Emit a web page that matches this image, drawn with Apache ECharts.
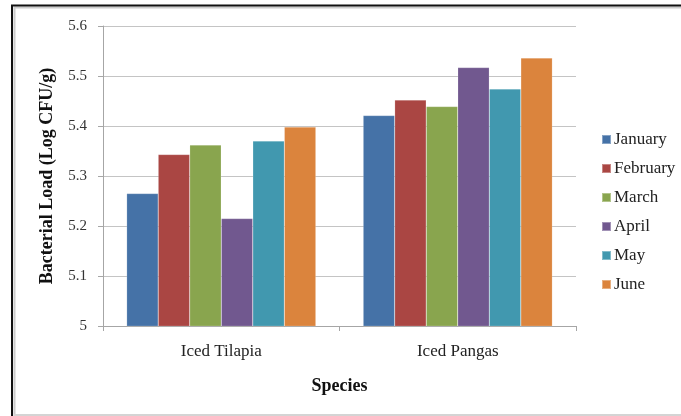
<!DOCTYPE html>
<html>
<head>
<meta charset="utf-8">
<script src="https://cdn.jsdelivr.net/npm/echarts@6/dist/echarts.min.js"></script>
<style>
  html, body { margin: 0; padding: 0; background: #fff; }
  #chart { width: 681px; height: 416px; }
</style>
</head>
<body>
<div id="chart"></div>
<script>
// Bacterial load by species, monthly means (log CFU/g)
const species = ['Iced Tilapia', 'Iced Pangas'];
const months = ['January', 'February', 'March', 'April', 'May', 'June'];
const january  = [5.265, 5.421];
const february = [5.343, 5.452];
const march    = [5.362, 5.439];
const april    = [5.215, 5.517];
const may      = [5.370, 5.474];
const june     = [5.398, 5.536];
const monthColors = ['#4572A7', '#AA4643', '#89A54E', '#71588F', '#4198AF', '#DB843D'];

const monthValues = [january, february, march, april, may, june];
const serif = '"Liberation Serif", "Times New Roman", serif';

const chart = echarts.init(document.getElementById('chart'), null, { renderer: 'canvas' });

chart.setOption({
  animation: false,
  backgroundColor: '#fff',
  textStyle: { fontFamily: serif },
  graphic: [
    // frame: dark line on top and left, soft shadow inside, light line at the bottom
    { type: 'line', shape: { x1: 14, y1: 7.5, x2: 681, y2: 7.5 },
      style: { stroke: '#cccccc', lineWidth: 2 } },
    { type: 'line', shape: { x1: 14.5, y1: 7, x2: 14.5, y2: 416 },
      style: { stroke: '#cccccc', lineWidth: 2 } },
    { type: 'line', shape: { x1: 11, y1: 5.5, x2: 681, y2: 5.5 },
      style: { stroke: '#111', lineWidth: 2 } },
    { type: 'line', shape: { x1: 12, y1: 5, x2: 12, y2: 416 },
      style: { stroke: '#111', lineWidth: 2 } },
    { type: 'line', shape: { x1: 14, y1: 415, x2: 681, y2: 415 },
      style: { stroke: '#d4d4d4', lineWidth: 2 } }
  ],
  grid: { left: 103, right: 105, top: 26, bottom: 90 },
  legend: {
    orient: 'vertical',
    left: 601,
    top: 131,
    padding: 0,
    itemWidth: 9,
    itemHeight: 9,
    itemGap: 12,
    icon: 'rect',
    textStyle: { fontFamily: serif, fontSize: 17, color: '#222', padding: [0, 0, 0, -2] },
    data: months
  },
  xAxis: {
    type: 'category',
    data: species,
    name: 'Species',
    nameLocation: 'middle',
    nameGap: 51,
    nameTextStyle: { fontFamily: serif, fontSize: 18, fontWeight: 'bold', color: '#111' },
    axisLine: { lineStyle: { color: '#a6a6a6' } },
    axisTick: { show: true, length: 5, lineStyle: { color: '#a6a6a6' } },
    axisLabel: { fontFamily: serif, fontSize: 17, color: '#222', margin: 17 }
  },
  yAxis: {
    type: 'value',
    min: 5,
    max: 5.6,
    interval: 0.1,
    name: 'Bacterial Load (Log CFU/g)',
    nameLocation: 'middle',
    nameGap: 47,
    nameTextStyle: { fontFamily: serif, fontSize: 18, fontWeight: 'bold', color: '#111' },
    axisLine: { show: true, lineStyle: { color: '#a6a6a6' } },
    axisTick: { show: true, length: 5, lineStyle: { color: '#a6a6a6' } },
    axisLabel: { fontFamily: serif, fontSize: 15, color: '#333', margin: 16,
      formatter: v => String(Math.round(v * 10) / 10) },
    splitLine: { lineStyle: { color: '#c4c4c4' } }
  },
  series: months.map((m, i) => ({
    name: m,
    type: 'bar',
    data: monthValues[i],
    barGap: '0%',
    barCategoryGap: '20%',
    itemStyle: { color: monthColors[i], borderColor: 'rgba(255,255,255,0.35)', borderWidth: 0.5 }
  }))
});
</script>
</body>
</html>
